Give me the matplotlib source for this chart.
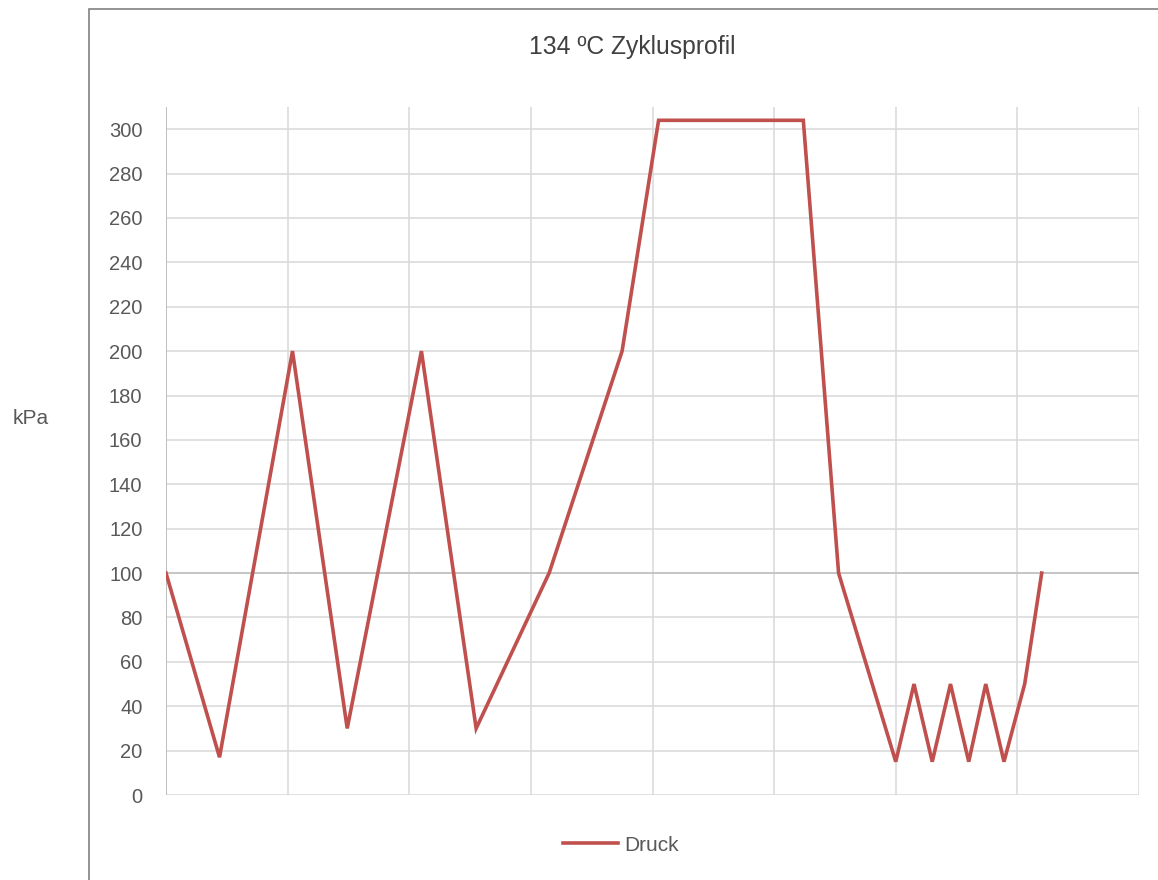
import numpy as np
import matplotlib.pyplot as plt
from matplotlib.patches import Rectangle

# Druckverlauf 134 °C Zyklus (x in Rastereinheiten, y in kPa)
zeit = [0.0, 0.44, 1.04, 1.49, 2.10, 2.55, 3.15, 3.75, 4.05, 5.24,
        5.53, 6.00, 6.15, 6.30, 6.45, 6.60, 6.74, 6.89, 7.06, 7.20]
druck = [100, 17, 200, 30, 200, 30, 100, 200, 304, 304,
         100, 15, 50, 15, 50, 15, 50, 15, 50, 100]

y_ticks = np.arange(0, 301, 20)
x_raster = np.arange(0, 9, 1)

titel = '134 ºC Zyklusprofil'
y_label = 'kPa'
serie = 'Druck'

rot = '#C0504D'
grau_text = '#595959'
grau_gitter = '#D9D9D9'
grau_achse = '#BFBFBF'

plt.rcParams['font.family'] = ['Liberation Sans', 'DejaVu Sans']

fig = plt.figure(figsize=(11.58, 8.8), dpi=100)
ax = fig.add_axes([166/1158, 1-795/880, (1139-166)/1158, (795-107)/880])

# Rahmen um das Diagramm
fig.add_artist(Rectangle((89/1158, -0.1), 1.0, 1-9/880+0.1, transform=fig.transFigure,
                         fill=False, ec='#808080', lw=1.2, clip_on=False))

ax.plot(zeit, druck, color=rot, lw=2.6, label=serie, zorder=3,
        solid_joinstyle='miter')

ax.set_xlim(0, 8)
ax.set_ylim(0, 310)
ax.set_yticks(y_ticks)
ax.set_xticks(x_raster)
ax.set_xticklabels([])
ax.grid(True, color=grau_gitter, lw=1.1)
ax.axhline(100, color=grau_achse, lw=1.1, zorder=2)
ax.axvline(0, color=grau_achse, lw=1.4, zorder=2)
for s in ax.spines.values():
    s.set_visible(False)
ax.tick_params(length=0, pad=17, labelsize=14.5, labelcolor=grau_text)

fig.text(632/1158, 1-47/880, titel, ha='center', va='center', fontsize=17.8,
         color='#404040')
fig.text(31/1158, 1-418/880, y_label, ha='center', va='center', fontsize=15,
         color=grau_text)

fig.legend(loc='center', bbox_to_anchor=(621/1158, 1-845/880), frameon=False,
           fontsize=15, labelcolor=grau_text, handlelength=2.6, handletextpad=0.3)

plt.savefig('out.png', dpi=100)
plt.close()
